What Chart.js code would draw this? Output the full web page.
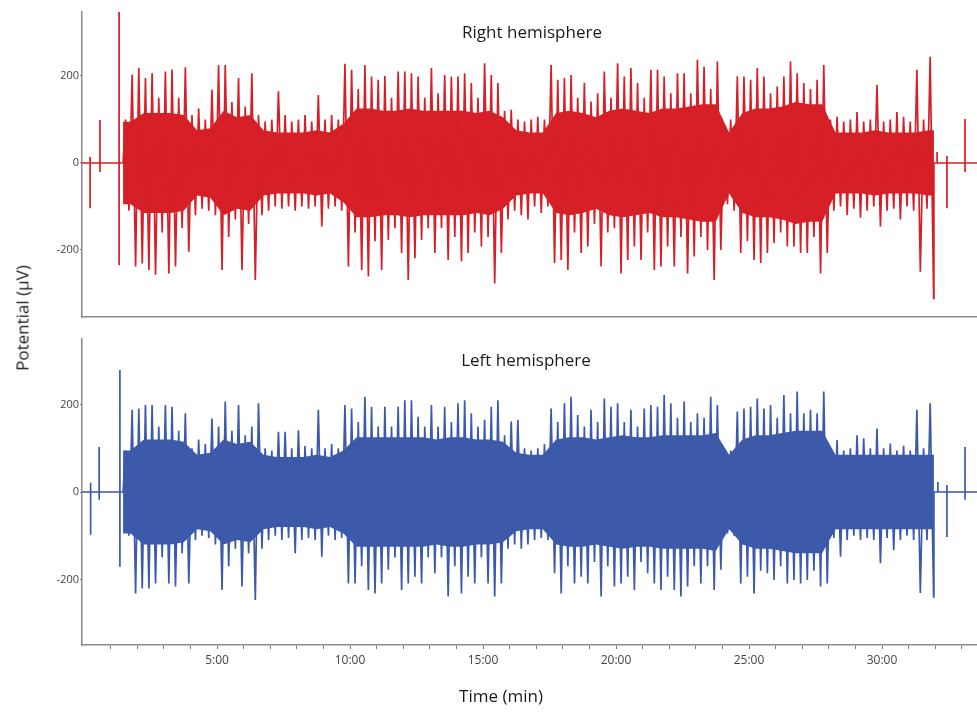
<!DOCTYPE html>
<html>
<head>
<meta charset="utf-8">
<script src="https://cdn.jsdelivr.net/npm/chart.js@4/dist/chart.umd.min.js"></script>
<style>
    body { margin: 0; background: #fff; width: 977px; height: 715px; position: relative; overflow: hidden; font-family: "Open Sans", sans-serif; }
    .wrap { position: absolute; left: 0; width: 977px; }
    #topWrap { top: 0; height: 330px; }
    #botWrap { top: 330px; height: 385px; }
    .lbl { position: absolute; color: #1a1a1a; font-size: 17px; white-space: nowrap; transform: translate(-50%, -50%); }
</style>
</head>
<body>
<div class="wrap" id="topWrap"><canvas id="rightChart" width="977" height="330"></canvas></div>
<div class="wrap" id="botWrap"><canvas id="leftChart" width="977" height="385"></canvas></div>
<div class="lbl" style="left:532px; top:31px;">Right hemisphere</div>
<div class="lbl" style="left:526px; top:359px;">Left hemisphere</div>
<div class="lbl" style="left:22px; top:318px; transform: translate(-50%, -50%) rotate(-90deg);">Potential (µV)</div>
<div class="lbl" style="left:501px; top:695px;">Time (min)</div>
<script>
// time axis in minutes
const xMin = -0.075;
const xMax = 33.57;
const minuteTicks = [1, 2, 3, 4, 5, 6, 7, 8, 9, 10, 11, 12, 13, 14, 15, 16, 17, 18, 19, 20, 21, 22, 23, 24, 25, 26, 27, 28, 29, 30, 31, 32, 33];
const yTicks = [-200, 0, 200];

// recording: spike envelope per 0.25 min bin, from 1.5 min
const signalStart = 1.47;
const signalEnd = 31.95;
const binStart = 1.5;
const binWidth = 0.25;
// dense band amplitude per 0.5 min, from 1.5 min
const coreWidth = 0.5;

// right hemisphere (uV)
const rightHigh = [
    100, 203, 218, 195, 206, 150, 210, 215, 150, 220,
    110, 125, 100, 168, 225, 225, 140, 195, 130, 206,
    110, 95, 100, 165, 110, 95, 100, 110, 95, 156,
    100, 110, 100, 228, 214, 170, 225, 199, 191, 200,
    150, 210, 210, 206, 199, 150, 218, 160, 202, 199,
    199, 206, 184, 150, 229, 202, 184, 120, 122, 100,
    95, 100, 106, 100, 225, 191, 195, 202, 150, 184,
    141, 160, 210, 150, 229, 199, 218, 184, 150, 214,
    214, 199, 160, 206, 206, 160, 237, 221, 170, 233,
    90, 100, 199, 199, 191, 218, 199, 160, 176, 199,
    233, 206, 184, 170, 191, 225, 100, 106, 95, 100,
    117, 95, 100, 179, 95, 100, 117, 106, 95, 214,
    100, 244
];
const rightLow = [
    -110, -238, -231, -246, -257, -160, -254, -238, -150, -204,
    -120, -105, -110, -120, -246, -170, -130, -246, -140, -269,
    -120, -110, -100, -105, -100, -110, -100, -105, -100, -146,
    -105, -100, -110, -238, -160, -246, -261, -180, -246, -177,
    -150, -207, -269, -219, -177, -150, -207, -150, -223, -170,
    -226, -207, -160, -192, -170, -277, -207, -130, -110, -120,
    -130, -100, -115, -100, -230, -223, -246, -160, -207, -192,
    -140, -238, -160, -150, -254, -223, -192, -223, -160, -246,
    -238, -192, -238, -170, -254, -215, -170, -200, -269, -200,
    -95, -110, -207, -180, -223, -230, -207, -184, -160, -192,
    -192, -207, -207, -170, -254, -207, -110, -100, -120, -105,
    -126, -110, -100, -146, -110, -105, -130, -100, -110, -250,
    -105, -311
];
const rightCore = [
    95, 115, 115, 115, 110, 75, 80, 120, 105, 110,
    75, 70, 70, 70, 75, 70, 90, 125, 125, 120,
    120, 125, 120, 120, 120, 120, 115, 120, 105, 75,
    70, 70, 115, 120, 115, 105, 120, 125, 120, 115,
    125, 125, 130, 135, 135, 70, 115, 125, 125, 130,
    140, 135, 135, 70, 70, 70, 75, 70, 70, 70,
    75
];
// isolated spikes before / after the recording: [min, high, low]
const rightEvents = [[0.23, 14, -104], [0.6, 99, -21], [1.32, 350, -235], [32.07, 25, 0], [32.44, 16, -104], [33.12, 101, -21]];

// left hemisphere (uV)
const leftHigh = [
    95, 188, 191, 199, 199, 150, 199, 195, 140, 180,
    100, 120, 110, 168, 150, 207, 140, 199, 130, 150,
    203, 100, 95, 138, 138, 100, 141, 105, 100, 188,
    100, 110, 100, 199, 191, 160, 218, 195, 150, 195,
    150, 195, 210, 210, 172, 150, 199, 150, 195, 160,
    203, 210, 180, 150, 165, 195, 210, 130, 161, 165,
    100, 95, 100, 110, 191, 160, 203, 218, 176, 150,
    188, 160, 214, 195, 203, 160, 188, 150, 191, 199,
    195, 222, 203, 170, 207, 160, 180, 170, 218, 199,
    90, 95, 184, 191, 195, 214, 191, 199, 170, 222,
    180, 230, 180, 188, 180, 230, 100, 119, 95, 100,
    130, 123, 100, 145, 100, 111, 95, 106, 95, 188,
    100, 203
];
const leftLow = [
    -100, -232, -221, -221, -209, -150, -209, -216, -140, -209,
    -110, -100, -105, -120, -224, -170, -130, -216, -140, -247,
    -130, -110, -100, -110, -105, -140, -110, -105, -110, -148,
    -100, -110, -105, -209, -209, -170, -224, -232, -209, -178,
    -150, -224, -209, -194, -209, -150, -186, -150, -239, -170,
    -232, -194, -209, -150, -209, -239, -209, -130, -120, -130,
    -120, -110, -105, -110, -186, -232, -170, -209, -194, -209,
    -160, -239, -170, -216, -209, -194, -224, -160, -186, -209,
    -224, -194, -224, -239, -216, -170, -209, -170, -224, -178,
    -95, -100, -209, -194, -232, -180, -186, -201, -170, -209,
    -201, -209, -201, -180, -216, -209, -105, -148, -110, -100,
    -110, -105, -110, -163, -105, -133, -110, -100, -110, -231,
    -110, -240
];
const leftCore = [
    95, 120, 120, 120, 115, 85, 90, 120, 110, 115,
    85, 80, 80, 80, 85, 80, 95, 125, 125, 125,
    125, 125, 125, 120, 125, 125, 120, 120, 115, 90,
    85, 85, 120, 125, 125, 120, 125, 130, 125, 125,
    130, 130, 130, 130, 135, 85, 120, 130, 130, 135,
    140, 140, 140, 85, 85, 85, 85, 85, 85, 85,
    85
];
const leftEvents = [[0.25, 21, -98], [0.57, 103, -18], [1.35, 279, -171], [32.1, 23, 0], [32.44, 16, -103], [33.12, 103, -18]];

function buildTrace(high, low, events) {
    const pts = [{ x: xMin, y: 0 }];
    events.filter(e => e[0] < signalStart).forEach(e => {
        pts.push({ x: e[0], y: 0 }, { x: e[0], y: e[1] }, { x: e[0], y: e[2] }, { x: e[0], y: 0 });
    });
    pts.push({ x: signalStart, y: 0 });
    high.forEach((h, i) => {
        const t = binStart + i * binWidth;
        pts.push({ x: t + 0.06, y: h }, { x: t + 0.19, y: low[i] });
    });
    pts.push({ x: signalEnd, y: 0 });
    events.filter(e => e[0] > signalEnd).forEach(e => {
        pts.push({ x: e[0], y: 0 }, { x: e[0], y: e[1] }, { x: e[0], y: e[2] }, { x: e[0], y: 0 });
    });
    pts.push({ x: xMax, y: 0 });
    return pts;
}

function buildCore(core, sign) {
    const pts = [{ x: signalStart, y: sign * core[0] }];
    core.forEach((v, i) => {
        pts.push({ x: binStart + i * coreWidth + coreWidth / 2, y: sign * v });
    });
    pts.push({ x: signalEnd, y: sign * core[core.length - 1] });
    return pts;
}

function renderPanel(canvasId, color, high, low, core, events, yMin, yMax, showTime) {
    const ctx = document.getElementById(canvasId);

    new Chart(ctx, {
        type: "line",
        data: {
            datasets: [
                {
                    data: buildTrace(high, low, events),
                    borderColor: color,
                    borderWidth: 1.7,
                    pointRadius: 0,
                    tension: 0,
                    fill: false
                },
                {
                    data: buildCore(core, 1),
                    borderWidth: 0,
                    borderColor: color,
                    backgroundColor: color,
                    pointRadius: 0,
                    fill: "+1"
                },
                {
                    data: buildCore(core, -1),
                    borderWidth: 0,
                    borderColor: color,
                    pointRadius: 0,
                    fill: false
                }
            ]
        },
        options: {
            responsive: false,
            animation: false,
            devicePixelRatio: 1,
            layout: {
                padding: { top: showTime ? 9 : 12, right: 0, left: 0, bottom: 0 }
            },
            plugins: {
                legend: { display: false },
                tooltip: { enabled: false }
            },
            scales: {
                x: {
                    type: "linear",
                    min: xMin,
                    max: xMax,
                    afterBuildTicks: s => { s.ticks = minuteTicks.map(v => ({ value: v })); },
                    afterFit: s => { s.height = showTime ? 70 : 13; },
                    border: { color: "#8a8a8a", width: 1.5 },
                    grid: { display: showTime, drawOnChartArea: false, tickLength: 4, color: "#777" },
                    ticks: {
                        display: showTime,
                        autoSkip: false,
                        maxRotation: 0,
                        padding: 4,
                        color: "#444",
                        font: { family: "Open Sans", size: 12 },
                        callback: v => (v % 5 === 0 ? v + ":00" : "")
                    }
                },
                y: {
                    type: "linear",
                    min: yMin,
                    max: yMax,
                    afterBuildTicks: s => { s.ticks = yTicks.map(v => ({ value: v })); },
                    afterFit: s => { s.width = 82; },
                    border: { color: "#8a8a8a", width: 1.5 },
                    grid: { drawOnChartArea: false, tickLength: 2, color: "#777" },
                    ticks: {
                        padding: 1,
                        color: "#444",
                        font: { family: "Open Sans", size: 11 }
                    }
                }
            }
        }
    });
}

renderPanel("rightChart", "#d61f26", rightHigh, rightLow, rightCore, rightEvents, -354, 347, false);
renderPanel("leftChart", "#3c5aa9", leftHigh, leftLow, leftCore, leftEvents, -350, 350, true);
</script>
</body>
</html>
